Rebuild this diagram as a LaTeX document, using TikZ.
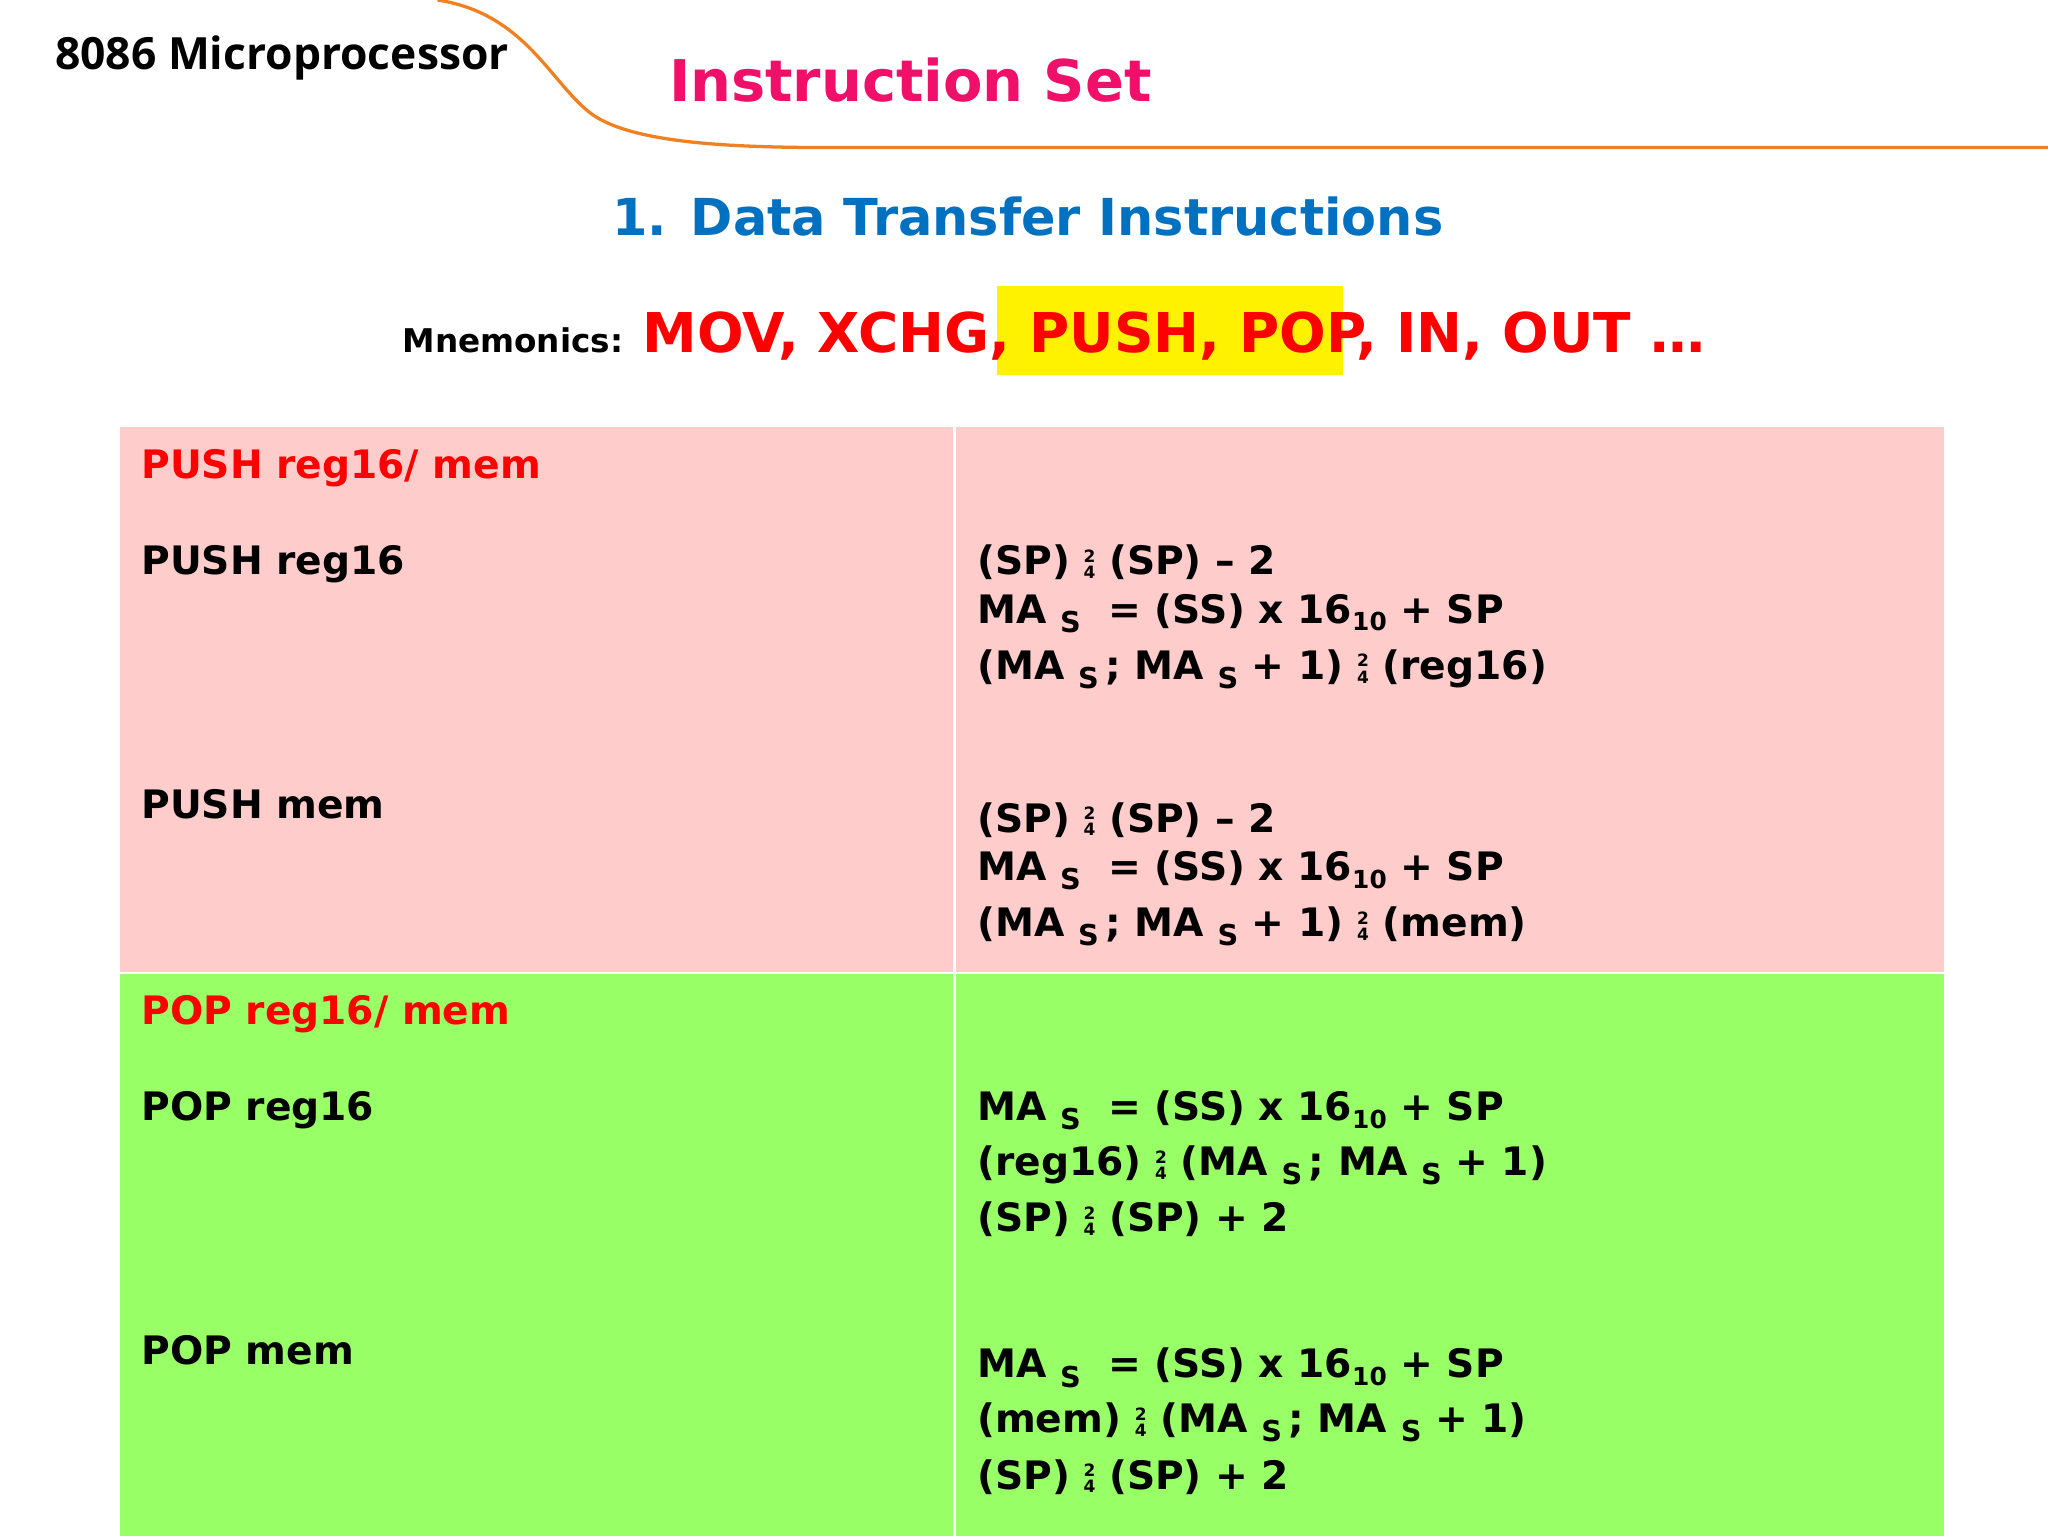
\documentclass[tikz,border=0pt]{standalone}
\usepackage{fontspec}
\setmainfont{DejaVu Sans}
\newfontfamily\tfont{Open Sans}
\definecolor{pinkbg}{HTML}{FFCCCC}
\definecolor{greenbg}{HTML}{99FF66}
\definecolor{ttl}{HTML}{F0106A}
\definecolor{blu}{HTML}{0070C0}
\definecolor{org}{HTML}{F08020}
\newcommand\arr{\raisebox{-3pt}{\fontsize{13}{12}\selectfont\shortstack{2\\4}}}
\newcommand\sbs{\raisebox{-7pt}{\fontsize{22}{22}\selectfont S}}
\newcommand\ten{\raisebox{-6pt}{\fontsize{19}{19}\selectfont 10}}
\begin{document}
\begin{tikzpicture}[x=1pt,y=-1pt,
  txt/.style={anchor=base west,inner sep=0,font=\bfseries\fontsize{30}{36}\selectfont},
  hd/.style={txt,text=red}]
\useasboundingbox (0,0) rectangle (1568,1176);
\fill[white] (0,0) rectangle (1568,1176);
\draw[org,line width=2.5pt] (335,0) .. controls (400,10) and (420,60) .. (450,85) .. controls (480,110) and (560,113) .. (640,113) -- (1568,113);
\node[anchor=base west,inner sep=0,font=\tfont\bfseries\fontsize{34}{40}\selectfont] (t1) at (42,53) {8086 Microprocessor};
\node[anchor=base west,inner sep=0,text=ttl,font=\bfseries\fontsize{44}{50}\selectfont] (t2) at (512,78) {Instruction Set};
\node[anchor=base,inner sep=0,text=blu,font=\bfseries\fontsize{39}{46}\selectfont] (t3) at (787,180) {1. Data Transfer Instructions};
\fill[yellow] (763,219) rectangle (1028,287);
\node[anchor=base west,inner sep=0,font=\bfseries\fontsize{25}{30}\selectfont] (m0) at (308,270) {Mnemonics:};
\node[anchor=base west,inner sep=0,text=red,font=\bfseries\fontsize{42}{48}\selectfont] (m1) at (492,270) {MOV, XCHG, PUSH, POP, IN, OUT …};
\fill[pinkbg] (92,327) rectangle (1488,744);
\fill[greenbg] (92,746) rectangle (1488,1176);
\draw[white,line width=2pt] (731,327) -- (731,1176);
\node[hd] (h1) at (108,366) {PUSH reg16/ mem};
\node[txt] (a1) at (108,440) {PUSH reg16};
\node[txt] (a2) at (748,440) {(SP) \arr\ (SP) – 2};
\node[txt] (a3) at (748,477) {MA \sbs\ \ = (SS) x 16\ten\ + SP};
\node[txt] (a4) at (748,520) {(MA \sbs\,; MA \sbs\ + 1) \arr\ (reg16)};
\node[txt] (b1) at (108,627) {PUSH mem};
\node[txt] (b2) at (748,637) {(SP) \arr\ (SP) – 2};
\node[txt] (b3) at (748,674) {MA \sbs\ \ = (SS) x 16\ten\ + SP};
\node[txt] (b4) at (748,717) {(MA \sbs\,; MA \sbs\ + 1) \arr\ (mem)};
\node[hd] (h2) at (108,784) {POP reg16/ mem};
\node[txt] (c1) at (108,858) {POP reg16};
\node[txt] (c2) at (748,858) {MA \sbs\ \ = (SS) x 16\ten\ + SP};
\node[txt] (c3) at (748,900) {(reg16) \arr\ (MA \sbs\,; MA \sbs\ + 1)};
\node[txt] (c4) at (748,943) {(SP) \arr\ (SP) + 2};
\node[txt] (d1) at (108,1045) {POP mem};
\node[txt] (d2) at (748,1055) {MA \sbs\ \ = (SS) x 16\ten\ + SP};
\node[txt] (d3) at (748,1097) {(mem) \arr\ (MA \sbs\,; MA \sbs\ + 1)};
\node[txt] (d4) at (748,1140) {(SP) \arr\ (SP) + 2};
\end{tikzpicture}
\end{document}
